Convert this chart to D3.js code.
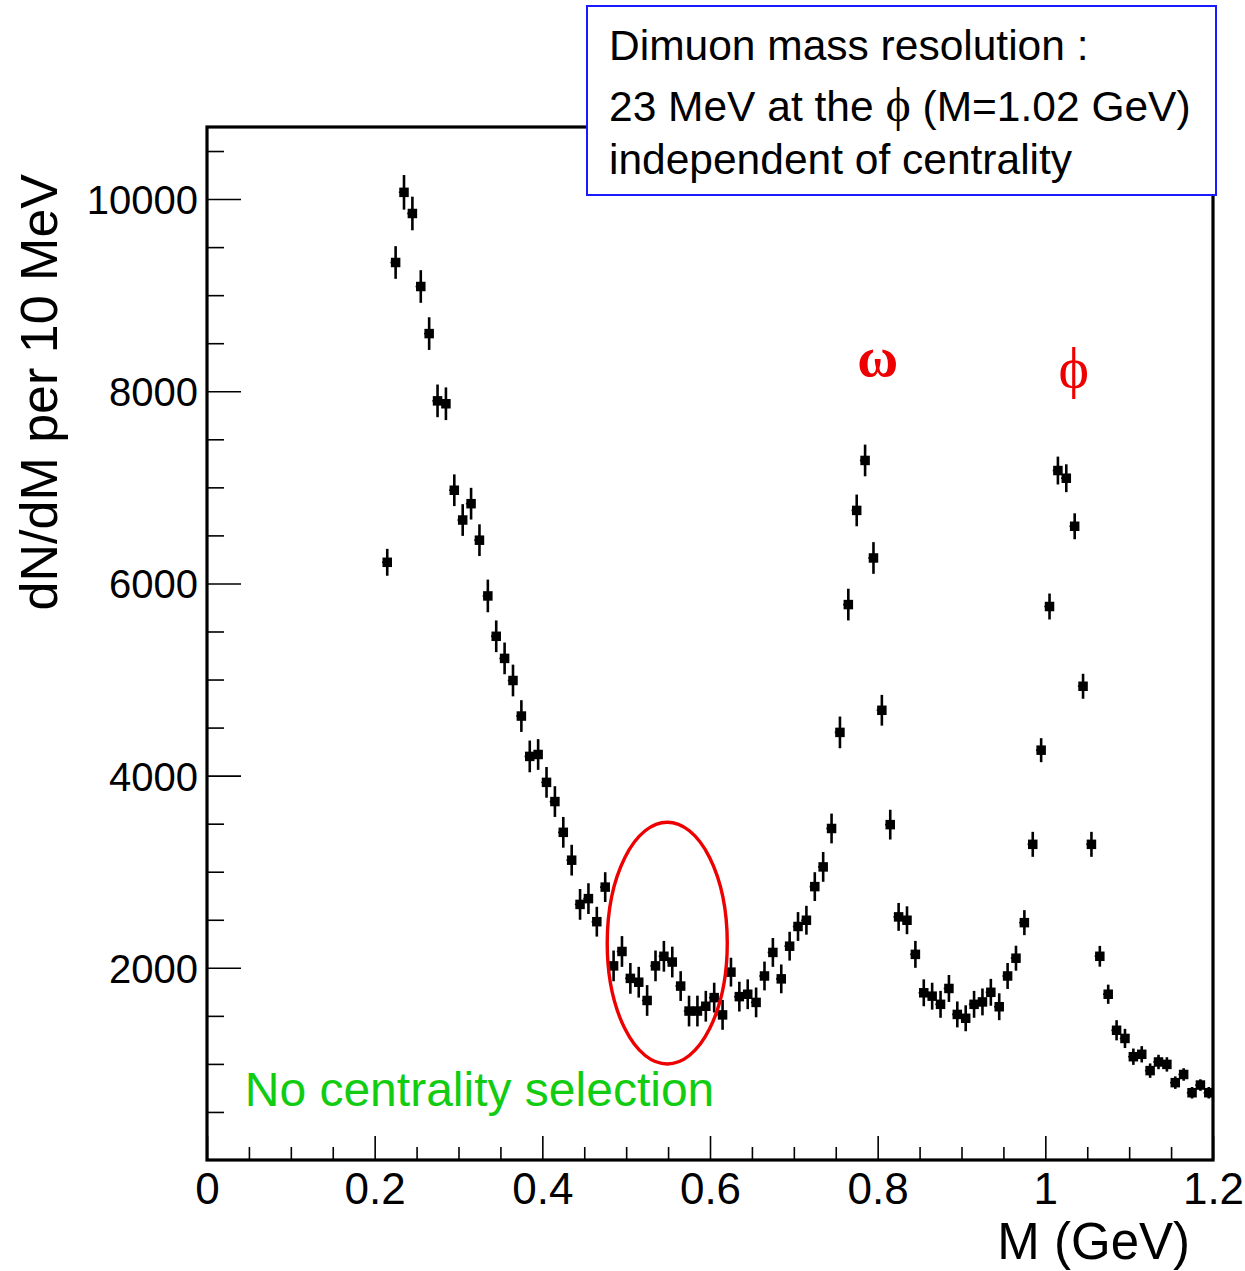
<!DOCTYPE html>
<html>
<head>
<meta charset="utf-8">
<script src="https://cdn.jsdelivr.net/npm/d3@7"></script>
<style>
  body { margin: 0; background: #fff; }
  svg { display: block; }
</style>
</head>
<body>
<div id="graph"></div>
<script>
// bin centres (GeV), 10 MeV bins
const masses = [
    0.215, 0.225, 0.235, 0.245, 0.255, 0.265, 0.275, 0.285, 0.295, 0.305,
    0.315, 0.325, 0.335, 0.345, 0.355, 0.365, 0.375, 0.385, 0.395, 0.405,
    0.415, 0.425, 0.435, 0.445, 0.455, 0.465, 0.475, 0.485, 0.495, 0.505,
    0.515, 0.525, 0.535, 0.545, 0.555, 0.565, 0.575, 0.585, 0.595, 0.605,
    0.615, 0.625, 0.635, 0.645, 0.655, 0.665, 0.675, 0.685, 0.695, 0.705,
    0.715, 0.725, 0.735, 0.745, 0.755, 0.765, 0.775, 0.785, 0.795, 0.805,
    0.815, 0.825, 0.835, 0.845, 0.855, 0.865, 0.875, 0.885, 0.895, 0.905,
    0.915, 0.925, 0.935, 0.945, 0.955, 0.965, 0.975, 0.985, 0.995, 1.005,
    1.015, 1.025, 1.035, 1.045, 1.055, 1.065, 1.075, 1.085, 1.095, 1.105,
    1.115, 1.125, 1.135, 1.145, 1.155, 1.165, 1.175, 1.185, 1.195
]
// dN/dM per 10 MeV
const counts = [
    6220, 9340, 10070, 9850, 9090, 8600, 7900, 7870, 6970, 6660,
    6830, 6450, 5870, 5450, 5220, 4990, 4620, 4200, 4220, 3930,
    3730, 3410, 3120, 2660, 2720, 2480, 2840, 2020, 2170, 1890,
    1850, 1660, 2020, 2120, 2060, 1810, 1550, 1550, 1600, 1690,
    1510, 1955, 1700, 1725, 1640, 1915, 2160, 1885, 2225, 2430,
    2495, 2845, 3050, 3450, 4450, 5780, 6760, 7280, 6265, 4680,
    3490, 2530, 2495, 2140, 1740, 1705, 1620, 1785, 1515, 1475,
    1620, 1645, 1745, 1595, 1915, 2100, 2470, 3285, 4265, 5760,
    7175, 7095, 6595, 4930, 3285, 2120, 1725, 1350, 1265, 1075,
    1100, 930, 1020, 995, 805, 890, 700, 780, 700
]
// statistical errors
const errors = [
    140, 170, 180, 175, 170, 170, 170, 170, 165, 165,
    165, 165, 170, 165, 165, 165, 165, 165, 160, 160,
    160, 160, 160, 160, 160, 155, 155, 160, 160, 160,
    160, 160, 160, 160, 160, 155, 160, 160, 160, 155,
    155, 150, 155, 155, 155, 150, 150, 150, 150, 150,
    150, 150, 155, 155, 165, 165, 165, 165, 165, 160,
    155, 145, 145, 140, 140, 140, 140, 140, 135, 135,
    140, 140, 140, 140, 135, 130, 130, 130, 125, 135,
    145, 145, 135, 130, 130, 108, 100, 105, 100, 85,
    85, 75, 75, 75, 65, 65, 60, 60, 60
]

const xTicks = [0, 0.2, 0.4, 0.6, 0.8, 1, 1.2]
const xTickLabels = ["0", "0.2", "0.4", "0.6", "0.8", "1", "1.2"]
const xMinorTicks = [0.05, 0.1, 0.15, 0.25, 0.3, 0.35, 0.45, 0.5, 0.55, 0.65, 0.7, 0.75,
    0.85, 0.9, 0.95, 1.05, 1.1, 1.15]
const yTicks = [2000, 4000, 6000, 8000, 10000]
const yMinorTicks = [500, 1000, 1500, 2500, 3000, 3500, 4500, 5000, 5500, 6500, 7000, 7500,
    8500, 9000, 9500, 10500]
const boxLines = ["Dimuon mass resolution :", "23 MeV at the ", "independent of centrality"]

const xAccessor = (d, i) => masses[i]
const yAccessor = (d, i) => counts[i]

let dimensions = {
    width: 1245,
    height: 1271,
    margin: {
        top: 127,
        right: 32,
        bottom: 111,
        left: 207,
    },
}
dimensions.boundedWidth = dimensions.width
    - dimensions.margin.left
    - dimensions.margin.right
dimensions.boundedHeight = dimensions.height
    - dimensions.margin.top
    - dimensions.margin.bottom

const font = "'Liberation Sans', Arial, Helvetica, sans-serif"
const symbolFont = "'Liberation Serif', 'DejaVu Serif', serif"

// canvas
const wrapper = d3.select("#graph")
    .append("svg")
    .attr("width", dimensions.width)
    .attr("height", dimensions.height)

const bounds = wrapper.append("g")
    .attr("transform", `translate(${dimensions.margin.left},${dimensions.margin.top})`)

// scales
const xScale = d3.scaleLinear()
    .domain([0, 1.2])
    .range([0, dimensions.boundedWidth])
const yScale = d3.scaleLinear()
    .domain([0, 10750])
    .range([dimensions.boundedHeight, 0])

// axes (ticks pointing inward, like ROOT)
const styleAxis = g => {
    g.select(".domain").remove()
    g.selectAll(".tick line").attr("stroke", "#000").attr("stroke-width", 1.6)
    g.selectAll("text").attr("font-family", font).attr("fill", "#000")
}

bounds.append("g")
    .call(d3.axisLeft(yScale).tickValues(yMinorTicks).tickSize(-17).tickFormat(""))
    .call(styleAxis)

const yAxis = bounds.append("g")
    .call(d3.axisLeft(yScale).tickValues(yTicks).tickSize(-34).tickPadding(9).tickFormat(d3.format("d")))
    .call(styleAxis)
yAxis.selectAll("text").attr("font-size", 40).attr("dy", "0.36em")

bounds.append("g")
    .attr("transform", `translate(0,${dimensions.boundedHeight})`)
    .call(d3.axisBottom(xScale).tickValues(xMinorTicks).tickSize(-13).tickFormat(""))
    .call(styleAxis)

const xAxis = bounds.append("g")
    .attr("transform", `translate(0,${dimensions.boundedHeight})`)
    .call(d3.axisBottom(xScale).tickValues(xTicks).tickSize(-24).tickPadding(13)
        .tickFormat((d, i) => xTickLabels[i]))
    .call(styleAxis)
xAxis.selectAll("text").attr("font-size", 44)

// frame
bounds.append("rect")
    .attr("width", dimensions.boundedWidth)
    .attr("height", dimensions.boundedHeight)
    .attr("fill", "none")
    .attr("stroke", "#000")
    .attr("stroke-width", 3.2)

// axis titles
wrapper.append("text")
    .attr("transform", `translate(57,${dimensions.margin.top + yScale(7990)}) rotate(-90)`)
    .attr("text-anchor", "middle")
    .attr("font-family", font)
    .attr("font-size", 52)
    .text("dN/dM per 10 MeV")

wrapper.append("text")
    .attr("x", 1190)
    .attr("y", 1259)
    .attr("text-anchor", "end")
    .attr("font-family", font)
    .attr("font-size", 51)
    .text("M (GeV)")

// data points: error bars + square markers
const points = bounds.append("g")
    .selectAll("g")
    .data(counts)
    .join("g")

points.append("line")
    .attr("x1", (d, i) => xScale(xAccessor(d, i)))
    .attr("x2", (d, i) => xScale(xAccessor(d, i)))
    .attr("y1", (d, i) => yScale(d + errors[i]))
    .attr("y2", (d, i) => yScale(d - errors[i]))
    .attr("stroke", "#000")
    .attr("stroke-width", 2.6)

points.append("line")
    .attr("x1", (d, i) => xScale(xAccessor(d, i) - 0.0062))
    .attr("x2", (d, i) => xScale(xAccessor(d, i)))
    .attr("y1", (d, i) => yScale(yAccessor(d, i)))
    .attr("y2", (d, i) => yScale(yAccessor(d, i)))
    .attr("stroke", "#000")
    .attr("stroke-width", 1.6)

points.append("rect")
    .attr("x", (d, i) => xScale(xAccessor(d, i)) - 4.75)
    .attr("y", (d, i) => yScale(yAccessor(d, i)) - 4.75)
    .attr("width", 9.5)
    .attr("height", 9.5)
    .attr("fill", "#000")

// eta region highlight
bounds.append("ellipse")
    .attr("cx", xScale(0.549))
    .attr("cy", yScale(2257))
    .attr("rx", xScale(0.0716) - xScale(0))
    .attr("ry", yScale(0) - yScale(1258))
    .attr("fill", "none")
    .attr("stroke", "#ee0000")
    .attr("stroke-width", 3.4)

// resonance labels
bounds.append("text")
    .attr("x", xScale(0.8))
    .attr("y", yScale(8160))
    .attr("text-anchor", "middle")
    .attr("font-family", symbolFont)
    .attr("font-size", 56)
    .attr("font-weight", "bold")
    .attr("fill", "#ee0000")
    .text("ω")

bounds.append("text")
    .attr("x", xScale(1.034))
    .attr("y", yScale(8040))
    .attr("text-anchor", "middle")
    .attr("font-family", symbolFont)
    .attr("font-size", 58)
    .attr("fill", "#ee0000")
    .text("ϕ")

bounds.append("text")
    .attr("x", xScale(0.045))
    .attr("y", yScale(560))
    .attr("font-family", font)
    .attr("font-size", 48)
    .attr("fill", "#11cc11")
    .text("No centrality selection")

// resolution box (sits on top of the frame)
const box = wrapper.append("g")
box.append("rect")
    .attr("x", 587)
    .attr("y", 6)
    .attr("width", 629)
    .attr("height", 189)
    .attr("fill", "#fff")
    .attr("stroke", "#1a1aff")
    .attr("stroke-width", 2)

const boxText = box.selectAll("text")
    .data(boxLines)
    .join("text")
    .attr("x", 609)
    .attr("y", (d, i) => [60, 121, 174][i])
    .attr("font-family", font)
    .attr("font-size", 42.5)
    .attr("fill", "#000")
    .text(d => d)

const phiLine = boxText.filter((d, i) => i === 1)
phiLine.append("tspan")
    .attr("font-family", symbolFont)
    .attr("font-size", 48)
    .text("ϕ")
phiLine.append("tspan")
    .text(" (M=1.02 GeV)")
</script>
</body>
</html>
